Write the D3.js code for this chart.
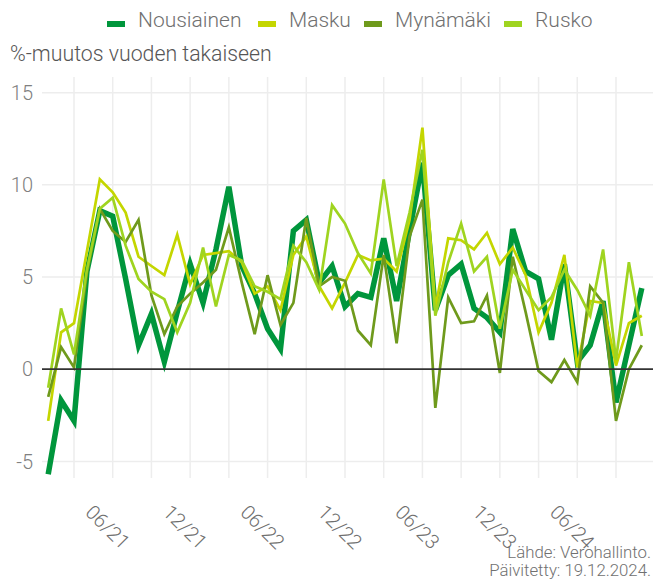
<!DOCTYPE html>
<html>
<head>
<meta charset="utf-8">
<script src="https://cdn.jsdelivr.net/npm/d3@7/dist/d3.min.js"></script>
<style>
  html, body { margin: 0; padding: 0; background: #fff; }
  svg { display: block; font-family: Roboto, "Noto Sans", sans-serif; }
</style>
</head>
<body>
<svg id="chart" width="653" height="579"></svg>
<script>
// Monthly observations, 01/2021 – 11/2024
const months = [
  "01/21","02/21","03/21","04/21","05/21","06/21","07/21","08/21","09/21","10/21","11/21","12/21",
  "01/22","02/22","03/22","04/22","05/22","06/22","07/22","08/22","09/22","10/22","11/22","12/22",
  "01/23","02/23","03/23","04/23","05/23","06/23","07/23","08/23","09/23","10/23","11/23","12/23",
  "01/24","02/24","03/24","04/24","05/24","06/24","07/24","08/24","09/24","10/24","11/24"
];

const seriesNames = ["Nousiainen", "Masku", "Mynämäki", "Rusko"];

const nousiainen = [
  -5.7, -1.7, -2.8, 5.3, 8.6, 8.3, 4.9, 1.3, 3.0, 0.4, 3.1, 5.7,
  3.6, 6.5, 9.9, 5.6, 4.1, 2.2, 1.1, 7.5, 8.1, 4.7, 5.6, 3.4,
  4.1, 3.9, 7.1, 3.7, 7.5, 11.2, 3.2, 5.1, 5.7, 3.3, 2.8, 2.0,
  7.6, 5.3, 4.9, 1.6, 5.7, 0.4, 1.3, 3.7, -1.8, 1.3, 4.4
];
const masku = [
  -2.8, 2.0, 2.5, 6.4, 10.3, 9.6, 8.5, 6.1, 5.6, 5.1, 7.3, 4.6,
  6.2, 6.3, 6.4, 5.8, 4.1, 4.5, 3.2, 6.2, 7.2, 4.5, 3.3, 4.7,
  6.2, 5.9, 6.0, 5.3, 8.1, 13.1, 3.3, 7.1, 7.0, 6.5, 7.4, 5.7,
  6.6, 5.1, 2.0, 3.6, 6.2, 0.1, 3.7, 3.6, 0.2, 2.5, 2.9
];
const mynamaki = [
  -1.5, 1.2, 0.1, 5.2, 8.7, 7.5, 6.9, 8.1, 4.0, 1.9, 3.4, 4.1,
  4.7, 5.4, 7.7, 4.7, 1.9, 5.1, 2.4, 3.6, 8.2, 4.5, 5.0, 4.8,
  2.1, 1.3, 6.2, 1.4, 7.2, 9.2, -2.1, 3.9, 2.5, 2.6, 4.0, -0.2,
  6.1, 3.1, -0.1, -0.7, 0.5, -0.7, 4.5, 3.6, -2.8, 0.0, 1.3
];
const rusko = [
  -1.0, 3.3, 0.8, 5.4, 8.7, 9.3, 6.7, 4.9, 4.2, 3.8, 2.0, 3.6,
  6.6, 3.4, 6.2, 5.9, 4.5, 4.2, 3.8, 6.7, 5.8, 4.3, 8.9, 7.9,
  6.3, 5.2, 10.3, 5.6, 8.5, 11.9, 2.9, 5.8, 7.9, 5.3, 6.1, 2.2,
  5.4, 4.3, 3.2, 3.9, 5.4, 4.3, 2.9, 6.5, 0.5, 5.8, 1.8
];

const xTickLabels = ["06/21", "12/21", "06/22", "12/22", "06/23", "12/23", "06/24"];
const yTicks = [-5, 0, 5, 10, 15];

const seriesValues = [nousiainen, masku, mynamaki, rusko];
const seriesColors = ["#00963c", "#c4d600", "#6f9a1c", "#9fd420"];
const seriesWidths = [5.5, 2.7, 2.7, 2.7];

const svg = d3.select("#chart");
const plot = { left: 42, right: 653, top: 77, bottom: 478 };

const x = d3.scalePoint().domain(months).range([48.2, 641.8]);
const y = d3.scaleLinear().domain([-5.9, 15.85]).range([plot.bottom, plot.top]);

// Vertical grid: one line per quarter
const quarterMonths = months.filter(m => ["03", "06", "09", "12"].includes(m.slice(0, 2)));
svg.append("g")
  .selectAll("line")
  .data(quarterMonths)
  .join("line")
  .attr("x1", d => x(d)).attr("x2", d => x(d))
  .attr("y1", plot.top).attr("y2", plot.bottom)
  .attr("stroke", "#ededed").attr("stroke-width", 1.5);

// Horizontal grid
svg.append("g")
  .selectAll("line")
  .data(yTicks.filter(v => v !== 0))
  .join("line")
  .attr("x1", plot.left).attr("x2", plot.right)
  .attr("y1", d => y(d)).attr("y2", d => y(d))
  .attr("stroke", "#ededed").attr("stroke-width", 1.5);

// Y tick labels
svg.append("g")
  .selectAll("text")
  .data(yTicks)
  .join("text")
  .attr("x", 33)
  .attr("y", d => y(d))
  .attr("dy", "0.36em")
  .attr("text-anchor", "end")
  .attr("font-size", 20)
  .attr("font-weight", 300)
  .attr("fill", "#808080")
  .text(d => d);

// X tick labels (rotated)
svg.append("g")
  .selectAll("text")
  .data(xTickLabels)
  .join("text")
  .attr("transform", d => `translate(${x(d) - 5},${527}) rotate(45)`)
  .attr("text-anchor", "middle")
  .attr("dy", "0.35em")
  .attr("font-size", 20)
  .attr("font-weight", 300)
  .attr("fill", "#6e6e6e")
  .text(d => d);

// Series lines
const line = d3.line()
  .x((d, i) => x(months[i]))
  .y(d => y(d));

svg.append("g")
  .selectAll("path")
  .data(seriesValues)
  .join("path")
  .attr("d", d => line(d))
  .attr("fill", "none")
  .attr("stroke", (d, i) => seriesColors[i])
  .attr("stroke-width", (d, i) => seriesWidths[i])
  .attr("stroke-linejoin", "miter");

// Zero baseline
svg.append("line")
  .attr("x1", plot.left).attr("x2", plot.right)
  .attr("y1", y(0)).attr("y2", y(0))
  .attr("stroke", "#333").attr("stroke-width", 1.8);

// Axis title
svg.append("text")
  .attr("x", 10).attr("y", 61)
  .attr("font-size", 21.3)
  .attr("font-weight", 300)
  .attr("fill", "#555")
  .text("%-muutos vuoden takaiseen");

// Legend
const legendX = [107, 258, 364, 504];
const legend = svg.append("g");
seriesNames.forEach((name, i) => {
  legend.append("rect")
    .attr("x", legendX[i]).attr("y", 21)
    .attr("width", 18).attr("height", 6)
    .attr("fill", seriesColors[i]);
  legend.append("text")
    .attr("x", legendX[i] + 31).attr("y", 27)
    .attr("font-size", 21)
    .attr("font-weight", 300)
    .attr("fill", "#707070")
    .text(name);
});

// Source note
const note = svg.append("g")
  .attr("text-anchor", "end")
  .attr("font-size", 16.8)
  .attr("font-weight", 300)
  .attr("fill", "#707070");
note.append("text").attr("x", 651).attr("y", 558).text("Lähde: Verohallinto.");
note.append("text").attr("x", 651).attr("y", 576).text("Päivitetty: 19.12.2024.");
</script>
</body>
</html>
